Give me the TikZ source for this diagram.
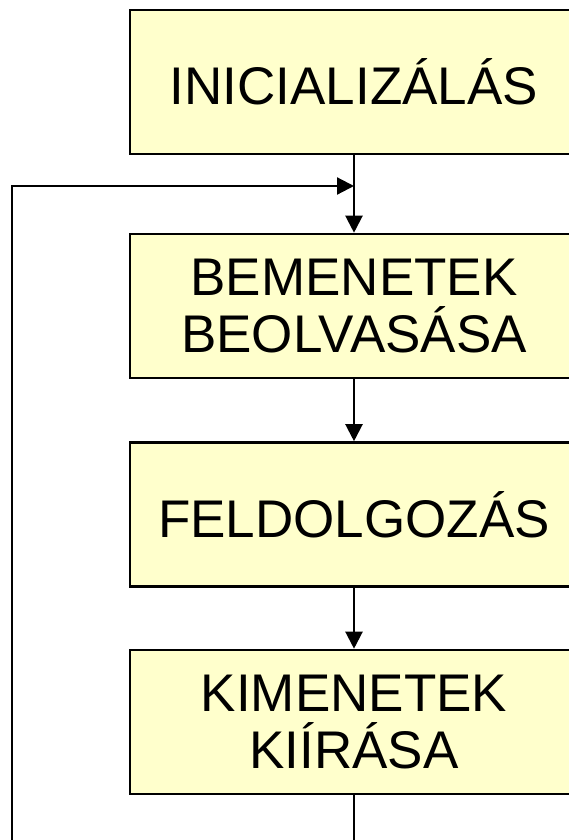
\documentclass[tikz,border=0pt]{standalone}
\usepackage{fontspec}
\setmainfont{Liberation Sans}
\usetikzlibrary{arrows.meta}
\definecolor{boxfill}{HTML}{FFFFCC}
\tikzset{
  stepbox/.style={draw=black, line width=2.6pt, fill=boxfill, rectangle,
    minimum width=448pt, minimum height=144pt, align=center, inner sep=0pt,
    font=\fontsize{53}{57}\selectfont},
  flow/.style={draw=black, line width=2.2pt},
  flowarrow/.style={flow, -{Triangle[length=17pt,width=17pt]}}
}
\begin{document}
\begin{tikzpicture}[x=1pt,y=1pt]
  \useasboundingbox (0,0) rectangle (569,-840);
  \clip (0,0) rectangle (569,-840);
  \node[stepbox] (init) at (354,-82) {INICIALIZÁLÁS};
  \node[stepbox] (input) at (354,-306) {BEMENETEK\\BEOLVASÁSA};
  \node[stepbox] (proc) at (354,-514.5) {FELDOLGOZÁS};
  \node[stepbox] (output) at (354,-722) {KIMENETEK\\KIÍRÁSA};
  % loop junction and the off-page ends of the return path
  \coordinate (join) at (354,-186);
  \coordinate (down) at (354,-860);
  \coordinate (back) at (12,-860);
  \coordinate (corner) at (12,-186);
  \draw[flowarrow] (init.south) -- (input.north);
  \draw[flowarrow] (input.south) -- (proc.north);
  \draw[flowarrow] (proc.south) -- (output.north);
  \draw[flow] (output.south) -- (down);
  \draw[flowarrow] (back) -- (corner) -- (join);
\end{tikzpicture}
\end{document}
